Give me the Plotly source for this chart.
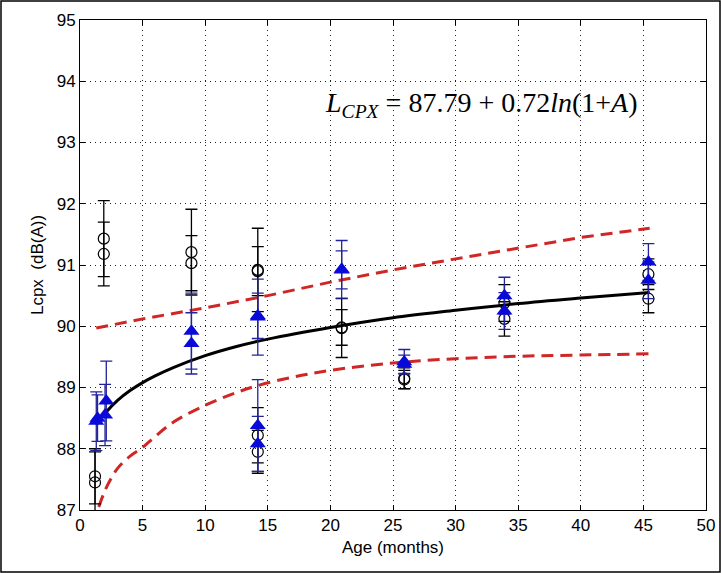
import plotly.graph_objects as go

# ---- data ----
circ_age = [1.9, 1.9, 1.2, 1.2, 8.9, 8.9, 14.2, 14.2, 14.2, 14.2,
            20.9, 20.9, 25.9, 25.9, 33.9, 33.9, 45.4, 45.4]
circ_val = [91.43, 91.18, 87.55, 87.45, 91.21, 91.03, 90.92, 90.90, 88.22, 87.95,
            89.98, 89.97, 89.15, 89.13, 90.38, 90.12, 90.85, 90.45]
circ_err = [0.62, 0.52, 0.45, 0.50, 0.70, 0.45, 0.68, 0.40, 0.45, 0.35,
            0.29, 0.48, 0.17, 0.15, 0.30, 0.28, 0.25, 0.23]

tri_age = [1.3, 1.4, 2.0, 2.1, 8.9, 8.9, 14.2, 14.2, 14.2, 14.2,
           20.9, 20.9, 25.9, 25.9, 33.9, 33.9, 45.4, 45.4]
tri_val = [88.45, 88.50, 88.55, 88.78, 89.92, 89.72, 90.17, 90.15, 88.38, 88.08,
           90.93, 90.92, 89.42, 89.38, 90.50, 90.25, 91.05, 90.75]
tri_err = [0.48, 0.38, 0.50, 0.65, 0.62, 0.50, 0.37, 0.62, 0.75, 0.45,
           0.47, 0.31, 0.20, 0.15, 0.30, 0.30, 0.30, 0.30]

fit_age = [1.3, 1.5, 2, 3, 4, 5, 6, 7.5, 10, 12.5, 15, 20, 25, 30, 35, 40, 45.5]
fit_val = [88.39, 88.45, 88.58, 88.79, 88.95, 89.08, 89.19, 89.33, 89.52, 89.67,
           89.79, 89.98, 90.14, 90.26, 90.37, 90.46, 90.55]

upper_age = [1.3, 5, 10, 15, 20, 25, 30, 35, 40, 45.5]
upper_val = [89.97, 90.12, 90.30, 90.50, 90.72, 90.92, 91.10, 91.28, 91.45, 91.60]

lower_age = [1.5, 2, 2.5, 3, 4, 5, 6, 7.5, 10, 12, 14, 17, 20, 25, 30, 35, 40, 45.5]
lower_val = [87.05, 87.32, 87.52, 87.68, 87.88, 88.02, 88.20, 88.44, 88.71, 88.88,
             89.02, 89.17, 89.28, 89.40, 89.47, 89.51, 89.53, 89.55]

x_ticks = [0, 5, 10, 15, 20, 25, 30, 35, 40, 45, 50]
y_ticks = [87, 88, 89, 90, 91, 92, 93, 94, 95]

FONT = "Liberation Sans, Arial, sans-serif"

fig = go.Figure()

fig.add_trace(go.Scatter(x=upper_age, y=upper_val, mode="lines",
                         line=dict(color="#d02626", width=3, dash="12px,7px")))
fig.add_trace(go.Scatter(x=lower_age, y=lower_val, mode="lines", line_shape="spline",
                         line=dict(color="#d02626", width=3, dash="12px,7px")))
fig.add_trace(go.Scatter(x=fit_age, y=fit_val, mode="lines", line_shape="spline",
                         line=dict(color="black", width=3)))

fig.add_trace(go.Scatter(x=circ_age, y=circ_val, mode="markers",
                         marker=dict(symbol="circle-open", size=11, color="black",
                                     line=dict(width=1.2, color="black")),
                         error_y=dict(type="data", array=circ_err, visible=True,
                                      color="black", thickness=1.3, width=6)))
fig.add_trace(go.Scatter(x=tri_age, y=tri_val, mode="markers",
                         marker=dict(symbol="triangle-up", size=14, color="#0a0ad8",
                                     line=dict(width=0)),
                         error_y=dict(type="data", array=tri_err, visible=True,
                                      color="#23239a", thickness=1.3, width=6)))

fig.add_annotation(x=19.4, y=93.62, xref="x", yref="y", xanchor="left", yanchor="middle",
                   showarrow=False,
                   text="<i>L</i><sub><i>CPX</i></sub> = 87.79 + 0.72<i>ln</i>(1+<i>A</i>)",
                   font=dict(family="Liberation Serif, Times New Roman, serif", size=28, color="black"))

# outer frame of the image
fig.add_shape(type="rect", xref="paper", yref="paper",
              x0=-79/626, x1=(721-81)/626, y0=-62/490, y1=(490+19)/490,
              line=dict(color="black", width=1.5), fillcolor="rgba(0,0,0,0)", layer="below")

axis_common = dict(showline=True, linecolor="black", linewidth=1, mirror="ticks",
                   ticks="inside", ticklen=5, tickcolor="black",
                   showgrid=True, gridcolor="#222", gridwidth=1, griddash="1px,4px",
                   zeroline=False, tickfont=dict(family=FONT, size=17, color="black"))

fig.update_xaxes(range=[0, 50], tickvals=x_ticks, ticktext=[str(v) for v in x_ticks],
                 title=dict(text="Age (months)", font=dict(family=FONT, size=17, color="black"),
                            standoff=6),
                 **axis_common)
fig.update_yaxes(range=[87, 95], tickvals=y_ticks, ticktext=[str(v) for v in y_ticks],
                 title=dict(text="Lcpx\u00a0\u00a0(dB(A))", font=dict(family=FONT, size=17, color="black"),
                            standoff=8),
                 **axis_common)

fig.update_layout(width=721, height=573, showlegend=False,
                  margin=dict(l=80, r=15, t=20, b=63, autoexpand=False),
                  paper_bgcolor="white", plot_bgcolor="white")

fig.write_html("out.html")
